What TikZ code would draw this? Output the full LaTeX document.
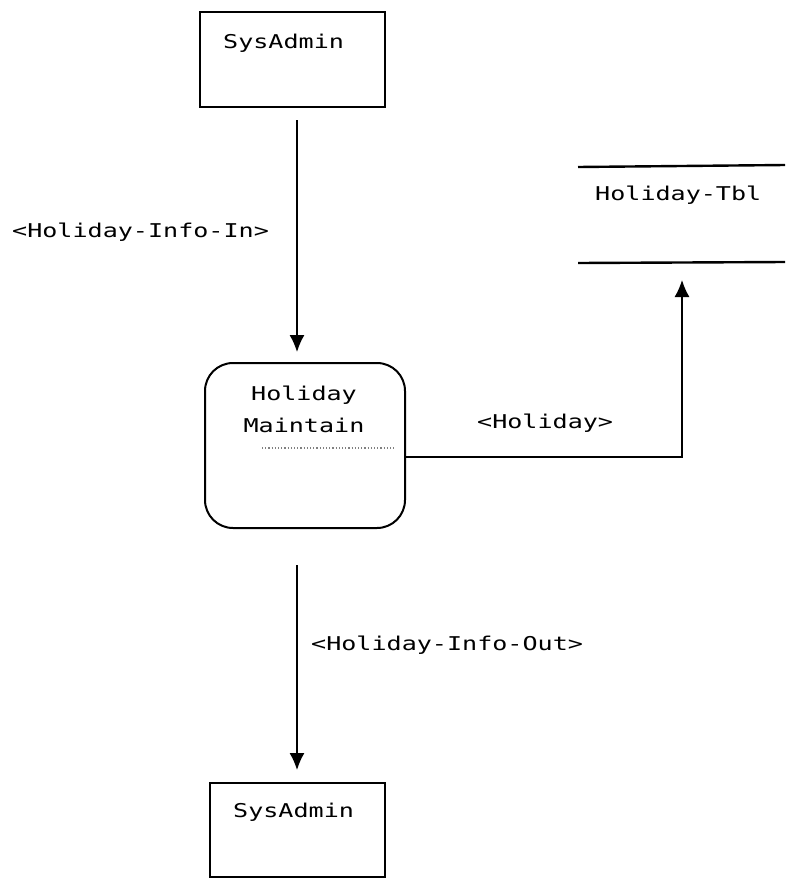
\documentclass[tikz,border=0pt]{standalone}
\usepackage{fontspec}
\setmonofont[FakeStretch=1.32]{DejaVu Sans Mono}
\usetikzlibrary{arrows.meta}
\begin{document}
\begin{tikzpicture}[x=1pt,y=-1pt,
  txt/.style={font=\ttfamily\fontsize{19}{21}\selectfont, inner sep=0pt},
  box/.style={draw, line width=2pt},
  flow/.style={line width=1.4pt, -{Latex[length=17pt,width=15pt]}},
  storeline/.style={line width=2.4pt}]
\useasboundingbox (0,0) rectangle (785,881);
% top SysAdmin
\node[box, minimum width=185pt, minimum height=95pt, inner sep=0pt] (sa1) at (292.5,59.5) {};
\node[txt, anchor=west] (sa1t) at (223,43) {SysAdmin};
% process
\node[box, rounded corners=28pt, minimum width=200pt, minimum height=165pt, inner sep=0pt] (proc) at (305,445.5) {};
\node[txt] (p1) at (304,395) {Holiday};
\node[txt] (p2) at (304,425) {Maintain};
\draw[dotted, line width=1.2pt, gray] (262,448) -- (395,448);
% store
\coordinate (stl) at (578,167);
\coordinate (str) at (785,165);
\coordinate (sbl) at (578,263);
\coordinate (sbr) at (785,262);
\draw[storeline] (stl) -- (str);
\draw[storeline] (sbl) -- (sbr);
\node[txt, anchor=west] (st) at (595,195) {Holiday-Tbl};
\coordinate (stb) at (682,280);
% bottom SysAdmin
\node[box, minimum width=175pt, minimum height=94pt, inner sep=0pt] (sa2) at (297.5,830) {};
\node[txt, anchor=west] (sa2t) at (233,812) {SysAdmin};
% flows
\coordinate (f1s) at (297,120);
\coordinate (f1e) at (297,352);
\draw[flow] (f1s) -- (f1e);
\node[txt, anchor=west] (l1) at (12,232) {<Holiday-Info-In>};
\coordinate (f2s) at (405,457);
\coordinate (f2c) at (682,457);
\draw[flow] (f2s) -- (f2c) -- (stb);
\node[txt, anchor=west] (l2) at (477,423) {<Holiday>};
\coordinate (f3s) at (297,565);
\coordinate (f3e) at (297,770);
\draw[flow] (f3s) -- (f3e);
\node[txt, anchor=west] (l3) at (311,645) {<Holiday-Info-Out>};
\end{tikzpicture}
\end{document}
